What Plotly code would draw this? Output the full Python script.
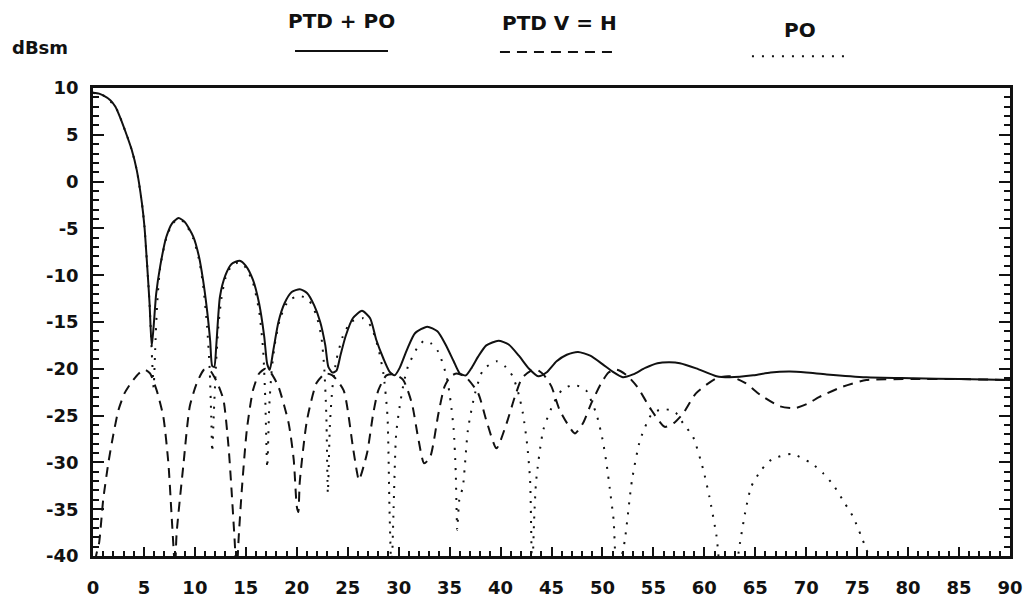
import plotly.graph_objects as go

# Aspect angle (deg) and RCS (dBsm) for the three solutions
ptd_po_x = [0, 0.6, 1.0, 1.7, 2.2, 2.65, 3.2, 3.8, 4.3, 4.8, 5.05, 5.3, 5.55, 5.76,
            5.95, 6.2, 6.6, 7.2, 7.8, 8.4, 9.0, 9.85, 10.4, 10.8, 11.2, 11.5, 11.7, 11.9,
            12.1, 12.46, 13.0, 13.6, 14.4, 15.0, 15.7, 16.3, 16.8, 17.1, 17.35, 17.7, 18.2,
            18.8, 19.5, 20.3, 21.0, 21.7, 22.3, 22.8, 23.1, 23.5, 23.9, 24.3, 24.8, 25.5,
            26.4, 27.2, 27.8, 28.5, 29.1, 29.6, 30.1, 30.8, 31.6, 32.8, 33.8, 34.6, 35.4,
            36.0, 36.6, 37.1, 37.8, 38.6, 39.8, 40.8, 41.8, 42.8, 43.7, 44.5, 45.5, 46.5,
            47.6, 48.8, 50.0, 51.0, 52.0, 53.0, 54.2, 55.4, 56.6, 57.6, 59.2, 61.2, 62.5,
            64.8, 66.5, 68.4, 70.0, 72.0, 75.9, 80.5, 85.0, 90.0]
ptd_po_y = [9.5, 9.4, 9.2, 8.7, 8.0, 6.9, 5.3, 3.4, 1.2, -2.3, -4.8, -8.7, -13.0, -17.6,
            -15.5, -12.0, -9.0, -5.9, -4.4, -3.9, -4.3, -5.9, -8.0, -10.5, -13.8, -17.0, -19.7, -19.8,
            -17.5, -12.3, -10.0, -8.8, -8.45, -9.0, -10.5, -13.0, -16.5, -19.5, -20.1, -18.0, -15.0,
            -13.0, -11.8, -11.5, -11.9, -13.2, -15.0, -17.5, -19.8, -20.4, -20.2, -18.5, -16.5, -14.6,
            -13.8, -14.6, -16.9, -18.9, -20.3, -20.7, -19.9, -18.0, -16.2, -15.5, -16.0, -17.4, -19.2,
            -20.5, -20.7, -20.0, -18.7, -17.5, -17.0, -17.4, -18.6, -20.0, -20.8, -20.4, -19.2, -18.5,
            -18.2, -18.6, -19.5, -20.3, -20.9, -20.6, -19.9, -19.4, -19.3, -19.4, -19.95, -20.8, -20.9,
            -20.7, -20.4, -20.3, -20.4, -20.6, -20.9, -21.0, -21.1, -21.2]

ptd_x = [0, 0.3, 0.6, 1.0, 1.5, 2.0, 2.5, 3.1, 3.8, 4.5, 5.1, 5.6, 6.25, 6.9, 7.4, 7.7, 7.95, 8.05,
         8.2, 8.86, 9.5, 10.2, 10.9, 11.5, 12.2, 12.8, 13.3, 13.6, 13.9, 14.1, 14.3, 14.6, 15.1,
         15.7, 16.3, 16.9, 17.5, 18.2, 19.2, 19.7, 20.0, 20.15, 20.3, 21.0, 21.95, 22.8, 23.5, 24.6,
         25.5, 25.9, 26.1, 26.9, 27.5, 28.0, 28.8, 29.6, 30.45, 31.3, 31.9, 32.5, 33.1, 33.9, 34.5,
         35.1, 35.7, 36.6, 37.8, 38.6, 39.6, 40.6, 41.4, 42.1, 43.0, 43.5, 44.2, 45.0, 45.8, 47.3,
         48.1, 48.9, 49.9, 50.6, 51.4, 52.4, 53.4, 54.8, 56.1, 57.0, 57.9, 59.2, 61.2, 62.5, 64.0,
         65.5, 67.4, 68.9, 70.2, 71.3, 73.6, 75.9, 80.5, 85.0, 90.0]
ptd_y = [-46, -40, -38.6, -34, -30.1, -27, -24.4, -22.6, -21.4, -20.5, -20.1, -20.5, -22.3, -25.1, -30.1, -35.4, -40, -42,
         -37.7, -30.4, -24, -21.5, -20.1, -20.2, -21.5, -23.3, -28.3, -33, -38.3, -42, -38, -33, -26.5,
         -22.3, -20.5, -20.0, -20.5, -21.9, -25.8, -29.7, -34.7, -35.3, -32, -25.5, -21.5, -20.5, -20.7, -22.3,
         -28.3, -31, -31.9, -29, -24.8, -22.3, -20.7, -20.6, -21.2, -23.7, -27.3, -30.1, -29.4, -24.8, -21.9,
         -20.8, -20.5, -20.9, -22.6, -25.5, -28.5, -25.8, -23, -21, -20.2, -20.05, -20.6, -21.9, -24.4, -26.9,
         -25.8, -23.7, -21.5, -20.4, -20.1, -20.7, -21.9, -24.4, -26.2, -25.8, -24.8, -22.6, -21.0, -20.8, -21.5,
         -22.8, -24.0, -24.2, -23.7, -23.0, -21.9, -21.2, -21.1, -21.1, -21.2]

po_x = [0, 1.0, 2.2, 3.2, 3.8, 4.3, 4.8, 5.05, 5.3, 5.55, 5.8, 5.95, 6.1, 6.3, 6.6, 7.2, 7.8, 8.4,
        9.0, 9.85, 10.4, 10.8, 11.2, 11.45, 11.6, 11.7, 11.85, 12.05, 12.3, 12.6, 13.0, 13.6, 14.4,
        15.0, 15.7, 16.3, 16.7, 16.9, 17.1, 17.3, 17.55, 17.9, 18.4, 19.2, 20.3, 21.2, 21.9, 22.4,
        22.7, 22.9, 23.05, 23.25, 23.5, 23.9, 24.5, 25.3, 26.5, 27.3, 28.0, 28.5, 28.9, 29.1, 29.3,
        29.5, 29.75, 30.1, 30.5, 30.9, 31.8, 32.5, 33.2, 33.9, 34.7, 35.1, 35.4, 35.6, 35.75, 35.95,
        36.3, 36.8, 37.5, 38.3, 39.6, 40.5, 41.2, 41.8, 42.2, 42.6, 42.9, 43.1, 43.3, 43.5, 44.2,
        45.2, 46.0, 47.1, 48.0, 48.4, 49.4, 50.0, 50.4, 50.8, 51.1, 51.4, 51.9, 52.2, 52.9, 53.7,
        54.8, 55.8, 56.6, 57.2, 57.9, 58.9, 59.9, 60.5, 61.2, 61.6, 62.5, 63.5, 64.0, 64.6, 65.6,
        66.6, 68.6, 70.5, 71.7, 72.65, 73.8, 74.6, 75.4, 75.8, 76.3, 77.0]
po_y = [9.5, 9.2, 8.0, 5.3, 3.4, 1.2, -2.3, -4.8, -8.7, -13.0, -19.0, -22, -18, -13.0, -9.1, -6.0, -4.5, -4.0,
        -4.4, -6.1, -8.3, -11.0, -15.5, -20, -25, -28.9, -25, -20, -15.5, -12.5, -10.3, -9.0, -8.6,
        -9.2, -10.8, -13.8, -18, -23, -30.6, -24, -20, -17, -14.5, -12.7, -12.2, -12.7, -14.2, -16.5,
        -20, -25, -33.3, -26, -22, -19, -16.6, -15.0, -14.6, -15.5, -17.8, -20.5, -25, -35, -42,
        -35, -27, -24, -21.5, -19.8, -17.8, -17.0, -17.3, -18.2, -20.8, -23.5, -26.5, -31, -37.2, -34,
        -32.6, -26.5, -22.6, -20.1, -19.2, -19.8, -20.8, -22.8, -24.8, -28, -31.9, -42, -36, -31.9, -26.5,
        -23.7, -22.3, -21.7, -22.0, -22.3, -24.8, -27.5, -30.1, -33.5, -36.2, -42, -40.0, -38.3, -31.9, -27.6,
        -24.9, -24.3, -24.4, -24.7, -25.8, -27.3, -30.8, -33.7, -37.9, -42, -45, -38.6, -35.4, -32.6, -30.8,
        -29.7, -29.1, -30.1, -31.2, -32.4, -34.4, -35.8, -37.9, -39.0, -40.5, -44]

x_ticks = list(range(0, 91, 5))
x_tick_labels = [str(v) for v in x_ticks]
y_ticks = list(range(10, -41, -5))
y_tick_labels = [str(v) for v in y_ticks]

series_names = ["PTD + PO", "PTD V = H", "PO"]

INK = "#111111"
TICK_FONT = dict(family="DejaVu Sans", size=18, color=INK, weight="bold")
TEXT_FONT = dict(family="DejaVu Sans", size=20, color=INK, weight="bold")
DASH = "10px,7px"
DOT = "2px,8px"

fig = go.Figure()
fig.add_trace(go.Scatter(x=ptd_po_x, y=ptd_po_y, mode="lines", name=series_names[0],
                         line=dict(color=INK, width=2, shape="spline", smoothing=0.6)))
fig.add_trace(go.Scatter(x=ptd_x, y=ptd_y, mode="lines", name=series_names[1],
                         line=dict(color=INK, width=2, dash=DASH, shape="spline", smoothing=0.6)))
fig.add_trace(go.Scatter(x=po_x, y=po_y, mode="lines", name=series_names[2],
                         line=dict(color=INK, width=2, dash=DOT, shape="spline", smoothing=0.6)))

fig.update_xaxes(range=[0, 90], tickvals=x_ticks, ticktext=x_tick_labels, automargin=False,
                 ticks="inside", ticklen=9, tickwidth=2, tickcolor=INK,
                 minor=dict(dtick=1, ticks="inside", ticklen=5, tickwidth=1.5, tickcolor=INK),
                 showline=True, linewidth=2.5, linecolor=INK, mirror=True,
                 showgrid=False, zeroline=False, tickfont=TICK_FONT, ticklabelstandoff=14)
fig.update_yaxes(range=[-40, 10], tickvals=y_ticks, ticktext=y_tick_labels, automargin=False,
                 ticks="inside", ticklen=11, tickwidth=2, tickcolor=INK,
                 minor=dict(dtick=1, ticks="inside", ticklen=6, tickwidth=1.5, tickcolor=INK),
                 showline=True, linewidth=2.5, linecolor=INK, mirror="ticks",
                 showgrid=False, zeroline=False, tickfont=TICK_FONT, ticklabelstandoff=8)

# Key: caption above a short sample of each line style
key_items = [
    (series_names[0], 0.2715, 1.143, 0.2203, 0.3217, 1.079, "solid"),
    (series_names[1], 0.509, 1.139, 0.4438, 0.566, 1.077, DASH),
    (series_names[2], 0.771, 1.124, 0.7186, 0.820, 1.068, DOT),
]
for label, tx, ty, x0, x1, ly, dash in key_items:
    fig.add_annotation(text=label, x=tx, y=ty, xref="paper", yref="paper",
                       showarrow=False, font=TEXT_FONT, xanchor="center", yanchor="middle")
    fig.add_shape(type="line", x0=x0, x1=x1, y0=ly, y1=ly, xref="paper", yref="paper",
                  line=dict(color=INK, width=2, dash=dash))

fig.add_annotation(text="dBsm", x=-0.0578, y=1.0855, xref="paper", yref="paper",
                   showarrow=False, font=dict(family="DejaVu Sans", size=18, color=INK, weight="bold"),
                   xanchor="center", yanchor="middle")

fig.update_layout(width=1026, height=601, showlegend=False,
                  margin=dict(l=93, r=16, t=88, b=45),
                  paper_bgcolor="white", plot_bgcolor="white")

fig.write_html("out.html")
